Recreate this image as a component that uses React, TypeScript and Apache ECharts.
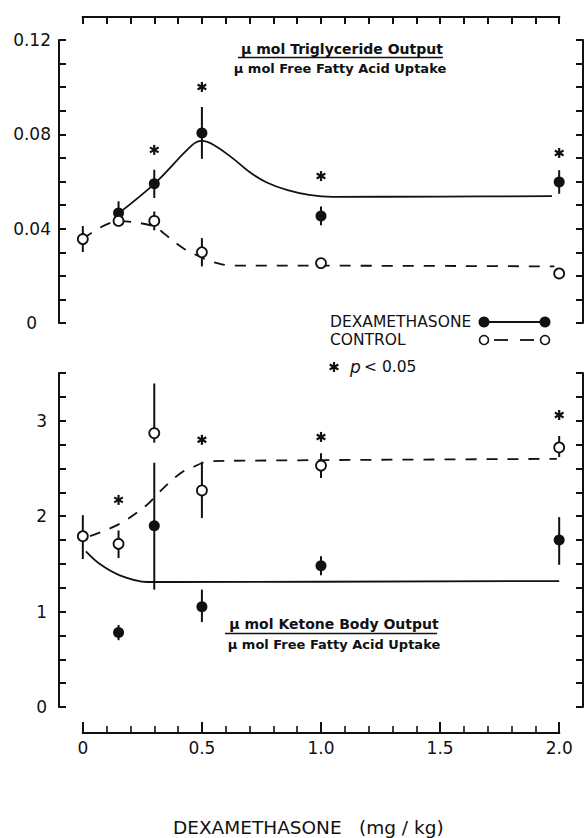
import React, { useEffect, useRef } from 'react';
import * as echarts from 'echarts';

// ---------- data ----------
const doses = [0, 0.15, 0.3, 0.5, 1.0, 2.0];
const dexDoses = [0.15, 0.3, 0.5, 1.0, 2.0];

// Triglyceride output / FFA uptake (top panel)
const tgControlMean = [0.0356, 0.0433, 0.0433, 0.030, 0.0254, 0.021];
const tgControlErr = [0.0055, 0.002, 0.004, 0.006, 0.0015, 0.002];
const tgDexMean = [0.0466, 0.059, 0.0806, 0.0454, 0.0598];
const tgDexErr = [0.005, 0.006, 0.011, 0.004, 0.005];
const tgStarX = [0.3, 0.5, 1.0, 2.0];
const tgStarY = [0.0734, 0.1001, 0.0623, 0.0721];
const tgDexCurve = [
  [0.15, 0.0465], [0.3, 0.059], [0.46, 0.0755], [0.5, 0.0772], [0.55, 0.0755],
  [0.63, 0.0698], [0.7, 0.064], [0.77, 0.0597], [0.86, 0.0563], [0.95, 0.0543],
  [1.05, 0.0535], [1.5, 0.0536], [1.97, 0.0538],
];
const tgControlCurve = [
  [0, 0.0356], [0.15, 0.0432], [0.3, 0.041], [0.34, 0.038], [0.42, 0.0318],
  [0.49, 0.0282], [0.55, 0.0258], [0.63, 0.0243], [1.0, 0.0243], [1.98, 0.024],
];

// Ketone body output / FFA uptake (bottom panel)
const kbControlMean = [1.79, 1.71, 2.87, 2.27, 2.53, 2.72];
const kbControlLow = [1.55, 1.56, 2.77, 1.98, 2.40, 2.62];
const kbControlHigh = [2.01, 1.85, 3.39, 2.57, 2.66, 2.84];
const kbDexMean = [0.78, 1.90, 1.05, 1.48, 1.75];
const kbDexLow = [0.70, 1.23, 0.89, 1.38, 1.49];
const kbDexHigh = [0.86, 2.56, 1.23, 1.58, 1.99];
const kbStarX = [0.15, 0.5, 1.0, 2.0];
const kbStarY = [2.17, 2.80, 2.83, 3.06];
const kbControlCurve = [
  [0.03, 1.79], [0.155, 1.92], [0.27, 2.12], [0.32, 2.25], [0.41, 2.45],
  [0.46, 2.51], [0.52, 2.57], [0.6, 2.58], [1.99, 2.6],
];
const kbDexCurve = [
  [0.013, 1.63], [0.07, 1.5], [0.155, 1.38], [0.27, 1.31], [0.35, 1.31], [2.0, 1.32],
];

// ruler (dose axis) ticks and labels
const rulerTicks = [0, 0.1, 0.2, 0.3, 0.4, 0.5, 0.6, 0.7, 0.8, 0.9, 1.0, 1.1, 1.2, 1.3, 1.4, 1.5, 1.6, 1.7, 1.8, 1.9, 2.0];
const rulerMajor = [0, 0.5, 1.0, 1.5, 2.0];
const rulerMinor = [0.1, 0.2, 0.3, 0.4, 0.6, 0.7, 0.8, 0.9, 1.1, 1.2, 1.3, 1.4, 1.6, 1.7, 1.8, 1.9];
const xTickLabels = ['0', '0.5', '1.0', '1.5', '2.0'];
const tgTickLabels = ['0', '0.04', '0.08', '0.12'];
const kbTickLabels = ['0', '1', '2', '3'];

const INK = '#111';
const FONT = 'DejaVu Sans';

function errorBars(xs: number[], lo: number[], hi: number[], xi: number, yi: number) {
  return {
    type: 'custom',
    xAxisIndex: xi,
    yAxisIndex: yi,
    silent: true,
    z: 3,
    data: xs.map((x, i) => [x, lo[i], hi[i]]),
    renderItem: (_p: any, api: any) => {
      const a = api.coord([api.value(0), api.value(1)]);
      const b = api.coord([api.value(0), api.value(2)]);
      return {
        type: 'line',
        shape: { x1: a[0], y1: a[1], x2: b[0], y2: b[1] },
        style: { stroke: INK, lineWidth: 2 },
      };
    },
  };
}

function stars(xs: number[], ys: number[], xi: number, yi: number) {
  return {
    type: 'custom',
    xAxisIndex: xi,
    yAxisIndex: yi,
    silent: true,
    z: 6,
    data: xs.map((x, i) => [x, ys[i]]),
    renderItem: (_p: any, api: any) => {
      const c = api.coord([api.value(0), api.value(1)]);
      const r = 5;
      const angs = [90, 30, -30];
      return {
        type: 'group',
        children: angs.map((a) => {
          const dx = r * Math.cos((a * Math.PI) / 180);
          const dy = r * Math.sin((a * Math.PI) / 180);
          return {
            type: 'line',
            shape: { x1: c[0] - dx, y1: c[1] - dy, x2: c[0] + dx, y2: c[1] + dy },
            style: { stroke: INK, lineWidth: 2.2 },
          };
        }),
      };
    },
  };
}

function nearMultiple(v: number, step: number) {
  const q = v / step;
  return Math.abs(q - Math.round(q)) < 1e-6;
}

const axLine = () => ({ show: true, onZero: false, lineStyle: { color: INK, width: 2 } });
const axTick = (len: number) => ({ show: true, inside: true, length: len, lineStyle: { color: INK, width: 2 } });

function txt(x: number, y: number, text: string, font: string, align = 'left') {
  return {
    type: 'text', x, y,
    style: { text, fill: INK, font, textAlign: align, textVerticalAlign: 'middle' },
  };
}

export default function App() {
  const ref = useRef<HTMLDivElement>(null);
  useEffect(() => {
    if (!ref.current) return;
    const chart = echarts.init(ref.current, undefined, { renderer: 'svg' });

    const hiddenX = (gi: number, min = -0.1, max = 2.1, position = 'bottom') => ({
      type: 'value', gridIndex: gi, min, max, show: false, position,
      axisLine: { show: false, onZero: false },
    });

    const option: any = {
      animation: false,
      backgroundColor: '#fff',
      textStyle: { fontFamily: FONT, color: INK },
      grid: [
        { left: 59, top: 40, width: 524, height: 283 },   // 0 top data + left axis
        { left: 59, top: 373, width: 524, height: 334 },  // 1 bottom data + left axis
        { left: 59, top: 40, width: 524, height: 283 },   // 2 top right axis
        { left: 59, top: 373, width: 524, height: 334 },  // 3 bottom right axis
      ],
      xAxis: [
        hiddenX(0),
        hiddenX(1, -0.1, 2.1, 'top'),
        hiddenX(2, 1, 2),
        hiddenX(3, 1, 2),
        // 4: top ruler
        {
          type: 'value', gridIndex: 0, min: -0.1, max: 2.1, position: 'top', offset: 23,
          axisLine: { show: false, onZero: false },
          axisTick: { ...axTick(7), customValues: rulerTicks },
          axisLabel: { show: false },
          splitLine: { show: false },
        },
        // 5: bottom ruler, major ticks + labels
        {
          type: 'value', gridIndex: 1, min: -0.1, max: 2.1, position: 'bottom', offset: 26,
          axisLine: { show: false, onZero: false },
          axisTick: { ...axTick(11), customValues: rulerMajor },
          axisLabel: {
            show: true, margin: 6, color: INK, fontFamily: FONT, fontSize: 17,
            customValues: rulerMajor,
            formatter: (v: number) => {
              if (!nearMultiple(v, 0.5) || v < 0 || v > 2) return '';
              return xTickLabels[Math.round(v / 0.5)] ?? '';
            },
          },
          splitLine: { show: false },
        },
        // 6: bottom ruler, minor ticks
        {
          type: 'value', gridIndex: 1, min: -0.1, max: 2.1, position: 'bottom', offset: 26,
          axisLine: { show: false, onZero: false },
          axisTick: { show: true, inside: true, length: 7, lineStyle: { color: INK, width: 1.6 }, customValues: rulerMinor },
          axisLabel: { show: false },
          splitLine: { show: false },
        },
      ],
      yAxis: [
        {
          type: 'value', gridIndex: 0, min: 0, max: 0.12, interval: 0.01,
          axisLine: axLine(),
          axisTick: axTick(7),
          axisLabel: {
            show: true, margin: 8, color: INK, fontFamily: FONT, fontSize: 17,
            formatter: (v: number) => {
              if (!nearMultiple(v, 0.04)) return '';
              const i = Math.round(v / 0.04);
              return i === 0 ? '{z|' + tgTickLabels[0] + '}' : tgTickLabels[i];
            },
            rich: { z: { fontFamily: FONT, fontSize: 17, color: INK, padding: [0, 14, 0, 0] } },
          },
          splitLine: { show: false },
        },
        {
          type: 'value', gridIndex: 1, min: 0, max: 3.5, interval: 0.25,
          axisLine: axLine(),
          axisTick: axTick(7),
          axisLabel: {
            show: true, margin: 12, color: INK, fontFamily: FONT, fontSize: 17,
            formatter: (v: number) => (nearMultiple(v, 1) ? kbTickLabels[Math.round(v)] : ''),
          },
          splitLine: { show: false },
        },
        {
          type: 'value', gridIndex: 2, min: 0, max: 0.12, interval: 0.01, position: 'right',
          axisLine: axLine(),
          axisTick: axTick(7),
          axisLabel: { show: false },
          splitLine: { show: false },
        },
        {
          type: 'value', gridIndex: 3, min: 0, max: 3.5, interval: 0.25, position: 'right',
          axisLine: axLine(),
          axisTick: axTick(7),
          axisLabel: { show: false },
          splitLine: { show: false },
        },
      ],
      series: [
        // ---- top panel ----
        {
          type: 'line', xAxisIndex: 0, yAxisIndex: 0, data: tgDexCurve, smooth: 0.35,
          symbol: 'none', silent: true, z: 2,
          lineStyle: { color: INK, width: 1.8, type: 'solid' },
        },
        {
          type: 'line', xAxisIndex: 0, yAxisIndex: 0, data: tgControlCurve, smooth: 0.35,
          symbol: 'none', silent: true, z: 2,
          lineStyle: { color: INK, width: 1.8, type: [11, 10] },
        },
        errorBars(dexDoses, tgDexMean.map((m, i) => m - tgDexErr[i]), tgDexMean.map((m, i) => m + tgDexErr[i]), 0, 0),
        errorBars(doses, tgControlMean.map((m, i) => m - tgControlErr[i]), tgControlMean.map((m, i) => m + tgControlErr[i]), 0, 0),
        {
          type: 'scatter', xAxisIndex: 0, yAxisIndex: 0, symbol: 'circle', symbolSize: 11, z: 4,
          data: dexDoses.map((x, i) => [x, tgDexMean[i]]),
          itemStyle: { color: INK, opacity: 1 },
        },
        {
          type: 'scatter', xAxisIndex: 0, yAxisIndex: 0, symbol: 'circle', symbolSize: 10, z: 5,
          data: doses.map((x, i) => [x, tgControlMean[i]]),
          itemStyle: { color: '#fff', borderColor: INK, borderWidth: 1.8, opacity: 1 },
        },
        stars(tgStarX, tgStarY, 0, 0),
        // ---- bottom panel ----
        {
          type: 'line', xAxisIndex: 1, yAxisIndex: 1, data: kbDexCurve, smooth: 0.35,
          symbol: 'none', silent: true, z: 2,
          lineStyle: { color: INK, width: 1.8, type: 'solid' },
        },
        {
          type: 'line', xAxisIndex: 1, yAxisIndex: 1, data: kbControlCurve, smooth: 0.35,
          symbol: 'none', silent: true, z: 2,
          lineStyle: { color: INK, width: 1.8, type: [11, 10] },
        },
        errorBars(dexDoses, kbDexLow, kbDexHigh, 1, 1),
        errorBars(doses, kbControlLow, kbControlHigh, 1, 1),
        {
          type: 'scatter', xAxisIndex: 1, yAxisIndex: 1, symbol: 'circle', symbolSize: 11, z: 4,
          data: dexDoses.map((x, i) => [x, kbDexMean[i]]),
          itemStyle: { color: INK, opacity: 1 },
        },
        {
          type: 'scatter', xAxisIndex: 1, yAxisIndex: 1, symbol: 'circle', symbolSize: 10, z: 5,
          data: doses.map((x, i) => [x, kbControlMean[i]]),
          itemStyle: { color: '#fff', borderColor: INK, borderWidth: 1.8, opacity: 1 },
        },
        stars(kbStarX, kbStarY, 1, 1),
      ],
    };

    chart.setOption(option);

    // ruler base lines, placed through the axes' own scales
    const toNum = (v: any, fb: number) => (typeof v === 'number' && isFinite(v) ? v : fb);
    const rx0 = toNum(chart.convertToPixel({ xAxisIndex: 0 } as any, rulerMajor[0]), 83);
    const rx2 = toNum(chart.convertToPixel({ xAxisIndex: 0 } as any, rulerMajor[rulerMajor.length - 1]), 559);
    const ryTop = toNum(chart.convertToPixel({ yAxisIndex: 0 } as any, 0.12), 40) - 23;
    const ryBot = toNum(chart.convertToPixel({ yAxisIndex: 1 } as any, 0), 707) + 26;

    const graphic: any[] = [
      { type: 'line', shape: { x1: rx0 - 1, y1: ryTop, x2: rx2 + 1, y2: ryTop }, style: { stroke: INK, lineWidth: 2 } },
      { type: 'line', shape: { x1: rx0 - 1, y1: ryBot, x2: rx2 + 1, y2: ryBot }, style: { stroke: INK, lineWidth: 2 } },
      // top fraction label
      txt(342, 49, 'μ mol Triglyceride Output', `bold 14px "${FONT}"`, 'center'),
      { type: 'line', shape: { x1: 238, y1: 57.5, x2: 443, y2: 57.5 }, style: { stroke: INK, lineWidth: 1.5 } },
      txt(340, 68, 'μ mol Free Fatty Acid Uptake', `bold 13px "${FONT}"`, 'center'),
      // bottom fraction label
      txt(334, 624, 'μ mol Ketone Body Output', `bold 14px "${FONT}"`, 'center'),
      { type: 'line', shape: { x1: 225, y1: 633.5, x2: 437, y2: 633.5 }, style: { stroke: INK, lineWidth: 1.5 } },
      txt(334, 644, 'μ mol Free Fatty Acid Uptake', `bold 13px "${FONT}"`, 'center'),
      // legend
      txt(330, 322, 'DEXAMETHASONE', `15.5px "${FONT}"`),
      { type: 'line', shape: { x1: 484, y1: 322, x2: 545, y2: 322 }, style: { stroke: INK, lineWidth: 1.8 } },
      { type: 'circle', shape: { cx: 484, cy: 322, r: 5.5 }, style: { fill: INK } },
      { type: 'circle', shape: { cx: 545, cy: 322, r: 5.5 }, style: { fill: INK } },
      txt(330, 340, 'CONTROL', `15.5px "${FONT}"`),
      { type: 'line', shape: { x1: 494, y1: 340, x2: 508, y2: 340 }, style: { stroke: INK, lineWidth: 1.8 } },
      { type: 'line', shape: { x1: 520, y1: 340, x2: 534, y2: 340 }, style: { stroke: INK, lineWidth: 1.8 } },
      { type: 'circle', shape: { cx: 484, cy: 340, r: 4.5 }, style: { fill: '#fff', stroke: INK, lineWidth: 1.6 } },
      { type: 'circle', shape: { cx: 545, cy: 340, r: 4.5 }, style: { fill: '#fff', stroke: INK, lineWidth: 1.6 } },
      {
        type: 'group', x: 334, y: 367,
        children: [90, 30, -30].map((a) => {
          const dx = 5 * Math.cos((a * Math.PI) / 180);
          const dy = 5 * Math.sin((a * Math.PI) / 180);
          return { type: 'line', shape: { x1: -dx, y1: -dy, x2: dx, y2: dy }, style: { stroke: INK, lineWidth: 2.2 } };
        }),
      },
      txt(350, 367, 'p', `italic 17px "${FONT}"`),
      txt(364, 367, '< 0.05', `15.5px "${FONT}"`),
      // x axis title
      txt(173, 827, 'DEXAMETHASONE', `18.5px "${FONT}"`),
      txt(359, 827, '(mg / kg)', `18.5px "${FONT}"`),
    ];
    chart.setOption({ graphic });

    return () => chart.dispose();
  }, []);

  return (
    <div
      ref={ref}
      style={{ position: 'fixed', left: 0, top: 0, width: 585, height: 838, background: '#fff' }}
    />
  );
}
